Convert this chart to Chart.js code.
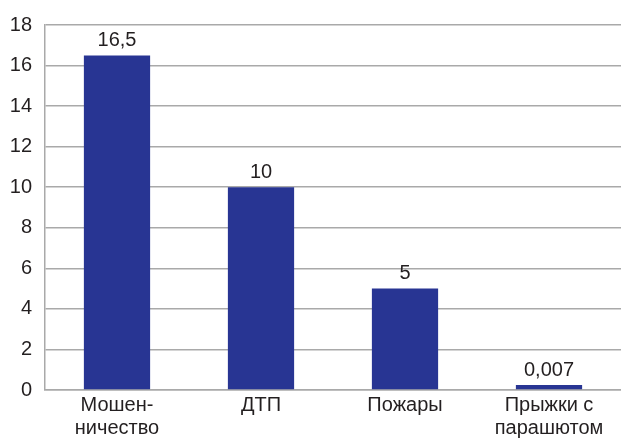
<!DOCTYPE html>
<html>
<head>
<meta charset="utf-8">
<script src="https://cdn.jsdelivr.net/npm/chart.js@4"></script>
<style>
  html, body { margin: 0; padding: 0; background: #fff; }
  #wrap { width: 621px; height: 438px; }
</style>
</head>
<body>
<div id="wrap"><canvas id="myChart"></canvas></div>
<script>
  const categories = [['Мошен-', 'ничество'], 'ДТП', 'Пожары', ['Прыжки с', 'парашютом']];
  const values = [16.5, 10, 5, 0.007];
  const yTicks = [0, 2, 4, 6, 8, 10, 12, 14, 16, 18];

  const barColor = '#283593';
  const gridColor = '#a9a9a9';
  const textColor = '#231f20';
  const fontFamily = '"Liberation Sans", Arial, sans-serif';

  // value labels above bars
  const valueLabels = {
    id: 'valueLabels',
    afterDatasetsDraw(chart) {
      const ctx = chart.ctx;
      const meta = chart.getDatasetMeta(0);
      ctx.save();
      ctx.font = '20px ' + fontFamily;
      ctx.fillStyle = textColor;
      ctx.textAlign = 'center';
      ctx.textBaseline = 'bottom';
      meta.data.forEach((bar, i) => {
        const txt = String(values[i]).replace('.', ',');
        ctx.fillText(txt, bar.x, bar.y - 5);
      });
      ctx.restore();
    }
  };

  const data1 = {
    labels: categories,
    datasets: [{
      data: values,
      backgroundColor: barColor,
      borderWidth: 0,
      barPercentage: 0.46,
      categoryPercentage: 1,
      minBarLength: 5
    }]
  };

  const config1 = {
    type: 'bar',
    data: data1,
    options: {
      responsive: true,
      maintainAspectRatio: false,
      animation: false,
      layout: { padding: { top: 24, right: 0, left: 0, bottom: 0 } },
      plugins: {
        legend: { display: false },
        tooltip: { enabled: false }
      },
      scales: {
        x: {
          grid: { display: false, drawTicks: false },
          border: { color: gridColor, width: 1.5 },
          ticks: {
            color: textColor,
            padding: 4,
            maxRotation: 0,
            autoSkip: false,
            font: { family: fontFamily, size: 20, lineHeight: 1.15 }
          },
          afterFit(scale) { scale.height = 48; }
        },
        y: {
          min: 0,
          max: 18,
          afterBuildTicks(scale) { scale.ticks = yTicks.map(v => ({ value: v })); },
          grid: { color: gridColor, lineWidth: 1.5, drawTicks: false },
          border: { color: gridColor, width: 1.5 },
          ticks: {
            color: textColor,
            padding: 13,
            font: { family: fontFamily, size: 20 }
          },
          afterFit(scale) { scale.width = 45; }
        }
      }
    },
    plugins: [valueLabels]
  };

  const myChart = new Chart(
    document.getElementById('myChart'),
    config1
  );
</script>
</body>
</html>
